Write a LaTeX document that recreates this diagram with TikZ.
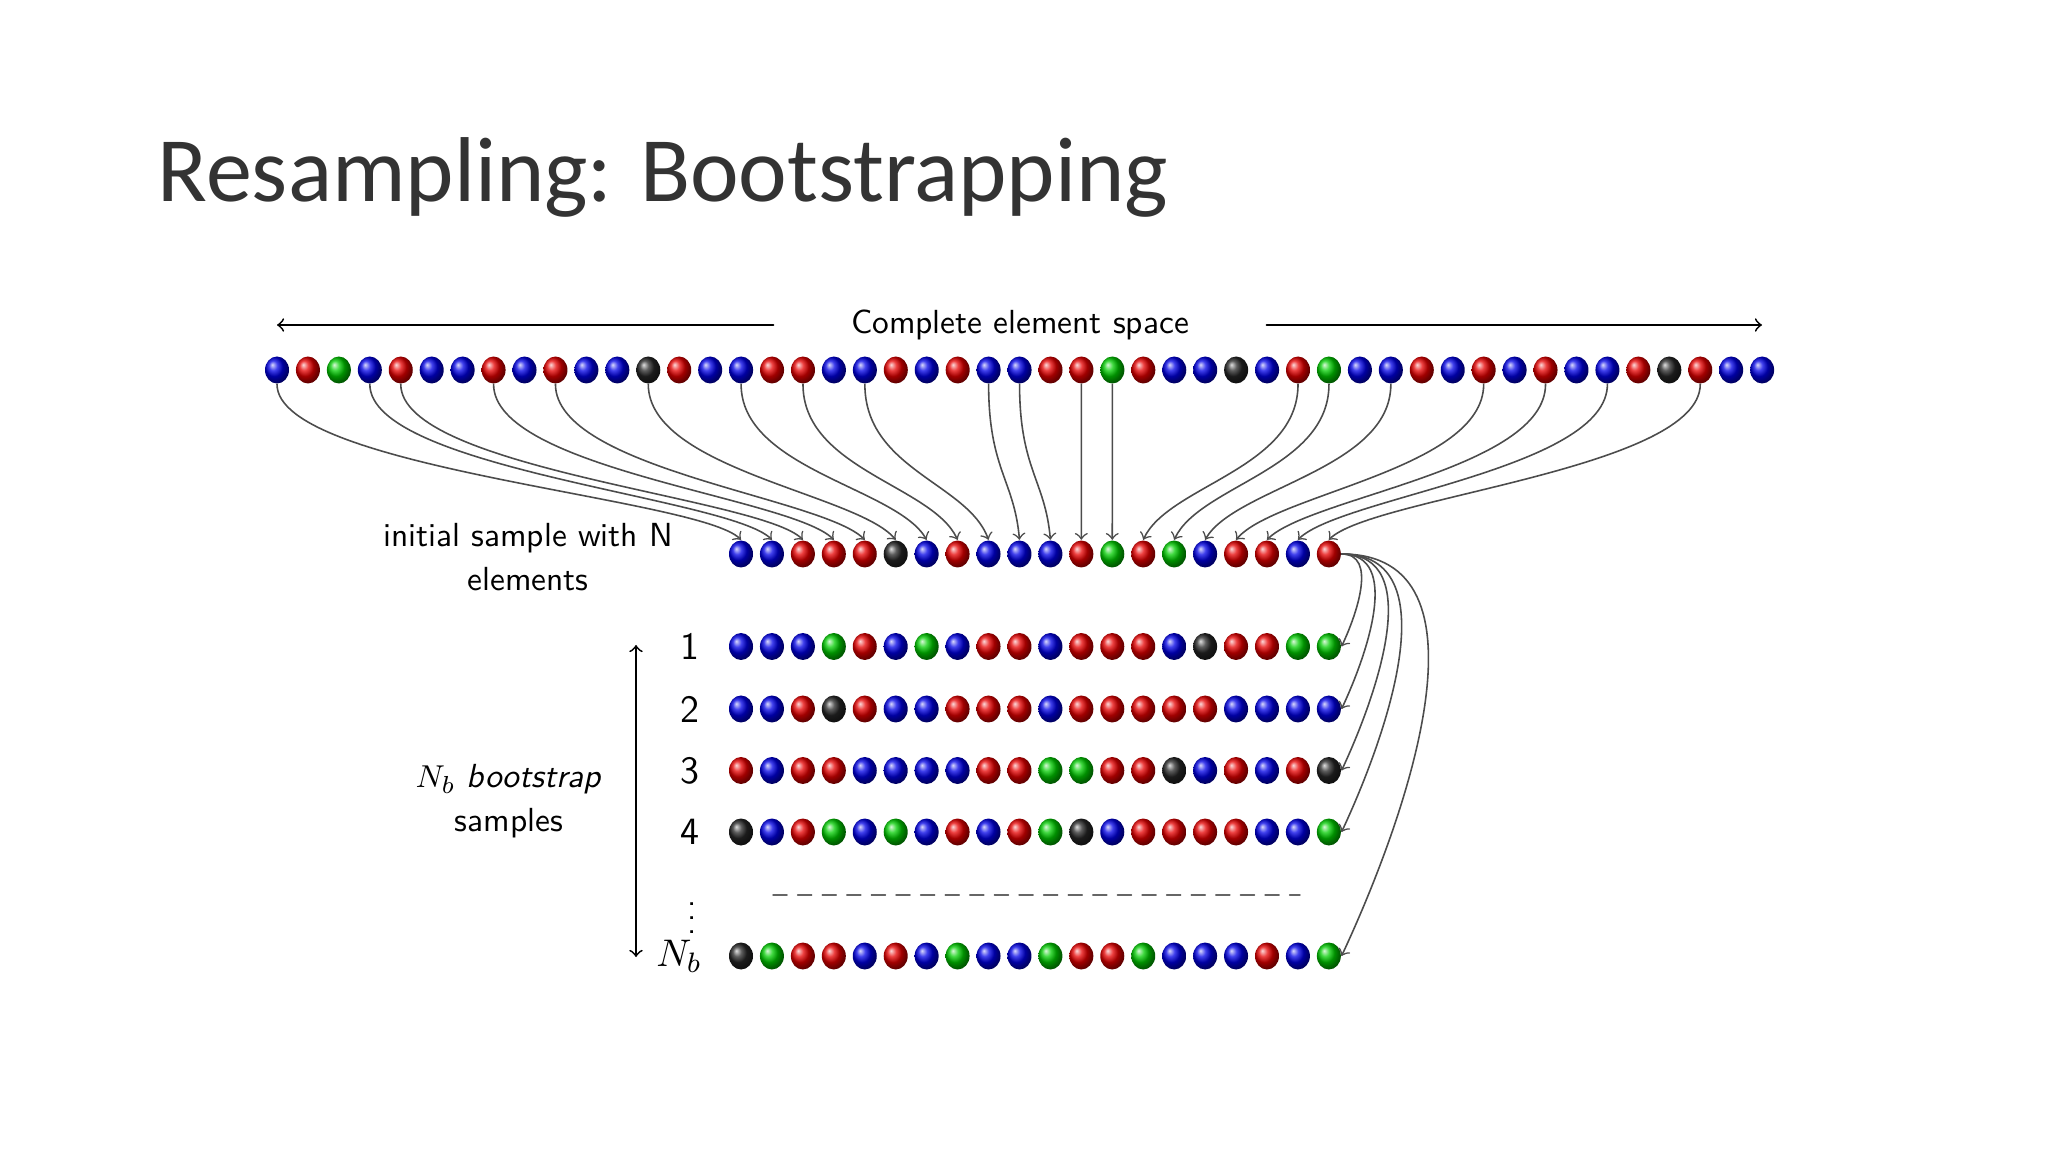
\documentclass[tikz,border=0pt]{standalone}
\usepackage{fontspec}
\newfontfamily\titlefont{Carlito}
\usetikzlibrary{shapes.geometric}

\colorlet{bl}{blue!90!black}
\colorlet{rd}{red!90!black}
\colorlet{gr}{green!80!black}
\colorlet{bk}{black!85}

\begin{document}
\begin{tikzpicture}
	[
		x=1cm,
		y=1cm,
		line cap=round,
		bead/.style={ellipse, inner sep=0pt, minimum width=0.24cm, minimum height=0.27cm},
		conn/.style={->, draw=black!70, line width=0.45pt},
		txt/.style={font=\sffamily\fontsize{9.5}{12.5}\selectfont, align=center, inner sep=0pt}
	]
		\useasboundingbox[fill=white] (0,0) rectangle (20.48,-11.52);
		% title
		\node[anchor=base west, inner sep=0pt, font=\titlefont\fontsize{26.2}{32}\selectfont, text=black!80] (title) at (1.57,-2.02) {Resampling: Bootstrapping};
		% complete element space
		\node[txt, inner xsep=0.77cm] (space) at (10.20,-3.25) {Complete element space};
		\coordinate (spaceL) at (2.77,-3.25);
		\coordinate (spaceR) at (17.62,-3.25);
		\draw[->, line width=0.5pt] (space.west) -- (spaceL);
		\draw[->, line width=0.5pt] (space.east) -- (spaceR);
		\foreach \c [count=\j] in {bl,rd,gr,bl,rd,bl,bl,rd,bl,rd,bl,bl,bk,rd,bl,bl,rd,rd,bl,bl,rd,bl,rd,bl,bl,rd,rd,gr,rd,bl,bl,bk,bl,rd,gr,bl,bl,rd,bl,rd,bl,rd,bl,bl,rd,bk,rd,bl,bl}
			\node[bead, ball color=\c] (t\j) at ({2.77+(\j-1)*0.3094},-3.70) {};
		% initial sample
		\node[txt] (init) at (5.28,-5.57) {initial sample with N\\elements};
		\foreach \c [count=\i] in {bl,bl,rd,rd,rd,bk,bl,rd,bl,bl,bl,rd,gr,rd,gr,bl,rd,rd,bl,rd}
			\node[bead, ball color=\c] (s\i) at ({7.41+(\i-1)*0.3094},-5.54) {};
		\foreach \src [count=\i] in {1,4,5,8,10,13,16,18,20,24,25,27,28,34,35,37,40,42,44,47}
		{
			\pgfmathsetmacro{\ang}{90+max(-45,min(45,5*(\i+15-\src)))}
			\draw[conn] (t\src.south) .. controls +(0,-0.85) and +(\ang:0.6) .. (s\i.north);
		}
		% bootstrap samples
		\foreach \c [count=\i] in {bl,bl,bl,gr,rd,bl,gr,bl,rd,rd,bl,rd,rd,rd,bl,bk,rd,rd,gr,gr}
			\node[bead, ball color=\c] (b1-\i) at ({7.41+(\i-1)*0.3094},-6.465) {};
		\foreach \c [count=\i] in {bl,bl,rd,bk,rd,bl,bl,rd,rd,rd,bl,rd,rd,rd,rd,rd,bl,bl,bl,bl}
			\node[bead, ball color=\c] (b2-\i) at ({7.41+(\i-1)*0.3094},-7.09) {};
		\foreach \c [count=\i] in {rd,bl,rd,rd,bl,bl,bl,bl,rd,rd,gr,gr,rd,rd,bk,bl,rd,bl,rd,bk}
			\node[bead, ball color=\c] (b3-\i) at ({7.41+(\i-1)*0.3094},-7.705) {};
		\foreach \c [count=\i] in {bk,bl,rd,gr,bl,gr,bl,rd,bl,rd,gr,bk,bl,rd,rd,rd,rd,bl,bl,gr}
			\node[bead, ball color=\c] (b4-\i) at ({7.41+(\i-1)*0.3094},-8.32) {};
		\foreach \c [count=\i] in {bk,gr,rd,rd,bl,rd,bl,gr,bl,bl,gr,rd,rd,gr,bl,bl,bl,rd,bl,gr}
			\node[bead, ball color=\c] (b5-\i) at ({7.41+(\i-1)*0.3094},-9.56) {};
		\foreach \r/\x/\y/\lab in {1/6.90/-6.465/1, 2/6.90/-7.09/2, 3/6.90/-7.705/3, 4/6.90/-8.32/4, 5/6.79/-9.56/$N_b$}
			\node[txt, font=\sffamily\fontsize{11}{13}\selectfont] (lab\r) at (\x,\y) {\lab};
		\node[txt] (vdots) at (6.92,-9.08) {$\vdots$};
		\coordinate (dashL) at (7.73,-8.95);
		\coordinate (dashR) at (13.00,-8.95);
		\draw[dashed, black!60, dash pattern=on 4pt off 3pt] (dashL) -- (dashR);
		\foreach \r in {1,...,5}
			\draw[conn] (s20.east) to[out=0,in=65] (b\r-20.east);
		% number of samples
		\coordinate (nbTop) at (6.36,-6.45);
		\coordinate (nbBot) at (6.36,-9.57);
		\draw[<->, line width=0.5pt] (nbTop) -- (nbBot);
		\node[txt] (nb) at (5.09,-8.01) {$N_b$ \textit{bootstrap}\\samples};
	\end{tikzpicture}
\end{document}
